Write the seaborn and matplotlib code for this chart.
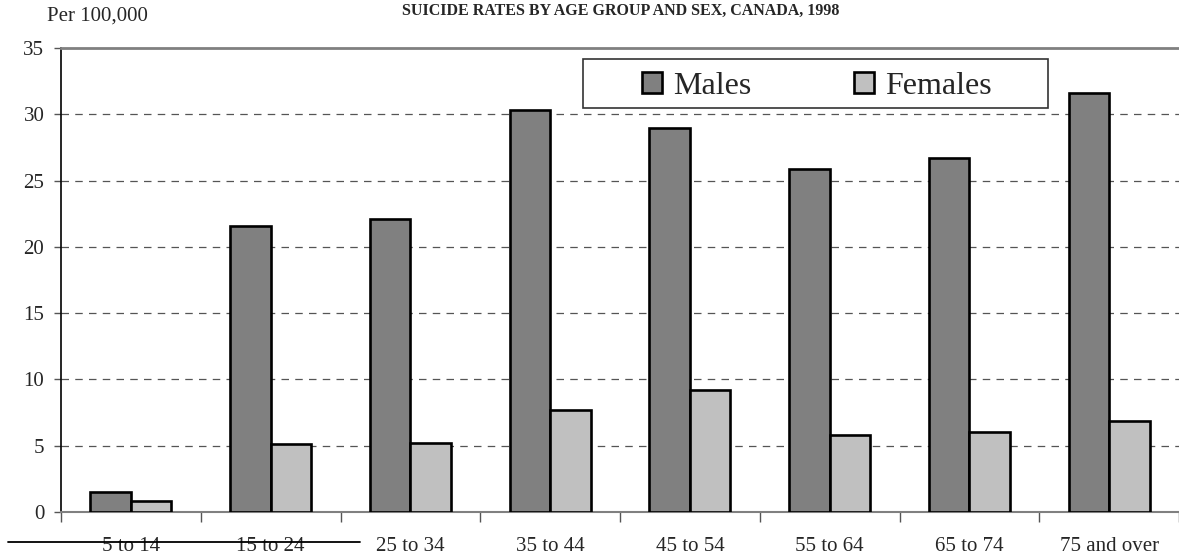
import matplotlib
matplotlib.use("Agg")
import matplotlib.pyplot as plt
from matplotlib.lines import Line2D
from matplotlib.patches import Rectangle
import seaborn as sns
import numpy as np
import pandas as pd

age_groups = ["5 to 14", "15 to 24", "25 to 34", "35 to 44", "45 to 54",
              "55 to 64", "65 to 74", "75 and over"]
males = [1.5, 21.6, 22.1, 30.3, 29.0, 25.9, 26.7, 31.6]
females = [0.8, 5.1, 5.2, 7.7, 9.2, 5.8, 6.0, 6.9]
sexes = ["Males", "Females"]
y_ticks = [0, 5, 10, 15, 20, 25, 30, 35]

df = pd.DataFrame({
    "age": age_groups * 2,
    "rate": males + females,
    "sex": ["Males"] * len(age_groups) + ["Females"] * len(age_groups),
})

sns.set_style("white")
plt.rcParams["font.family"] = ["Liberation Serif", "DejaVu Serif"]

W, H = 1179, 554
fig = plt.figure(figsize=(W / 100, H / 100), dpi=100)
ax = fig.add_axes([61 / W, 42 / H, 1 - 61 / W, 464 / H])

sns.barplot(data=df, x="age", y="rate", hue="sex", order=age_groups,
            hue_order=sexes, palette=["#808080", "#c0c0c0"], width=0.58,
            edgecolor="black", linewidth=1.9, saturation=1, ax=ax, zorder=3)

ax.set_ylim(0, 35)
ax.set_xlim(-0.5, len(age_groups) - 0.5)
ax.set_yticks(y_ticks)
ax.set_xlabel("")
ax.set_ylabel("")

# dashed gridlines
for y in y_ticks[1:-1]:
    ax.axhline(y, color="#555555", lw=0.9, ls=(0, (6, 5)), zorder=1)

ax.spines["right"].set_visible(False)
ax.spines["top"].set_color("#808080")
ax.spines["top"].set_linewidth(2)
ax.spines["left"].set_color("black")
ax.spines["left"].set_linewidth(1.2)
ax.spines["bottom"].set_color("#808080")
ax.spines["bottom"].set_linewidth(1.5)

ax.tick_params(axis="y", length=5, width=1, color="#555555", labelsize=15, pad=7, left=True)
ax.set_xticks(np.arange(len(age_groups) + 1) - 0.5, minor=True)
ax.tick_params(axis="x", which="minor", length=7, width=1, color="#555555", bottom=True)
ax.tick_params(axis="x", which="major", length=0, labelsize=15, pad=18)

# legend: box drawn separately, entries centred in it
handles = ax.get_legend_handles_labels()[0]
leg = ax.legend(handles=handles, labels=sexes, loc="center",
                bbox_to_anchor=(817 / W, 1 - 86 / H), bbox_transform=fig.transFigure,
                ncol=2, fontsize=23, frameon=False,
                handlelength=0.62, handleheight=0.62, handletextpad=0.35,
                columnspacing=3.2, borderpad=0, borderaxespad=0)
for h in leg.legend_handles:
    h.set_linewidth(1.9)
fig.add_artist(Rectangle((583 / W, 1 - 108 / H), 465 / W, 49 / H,
                         transform=fig.transFigure, fill=False,
                         edgecolor="#333333", lw=1.2))

fig.text(621 / W, 1 - 11 / H, "SUICIDE RATES BY AGE GROUP AND SEX, CANADA, 1998",
         ha="center", va="center", fontsize=11.5, fontweight="bold")
fig.text(47 / W, 1 - 16 / H, "Per 100,000", ha="left", va="center", fontsize=15)

fig.add_artist(Line2D([8 / W, 360 / W], [1 - 542 / H] * 2,
                      color="black", lw=1.3))

fig.savefig("out.png", dpi=100)
